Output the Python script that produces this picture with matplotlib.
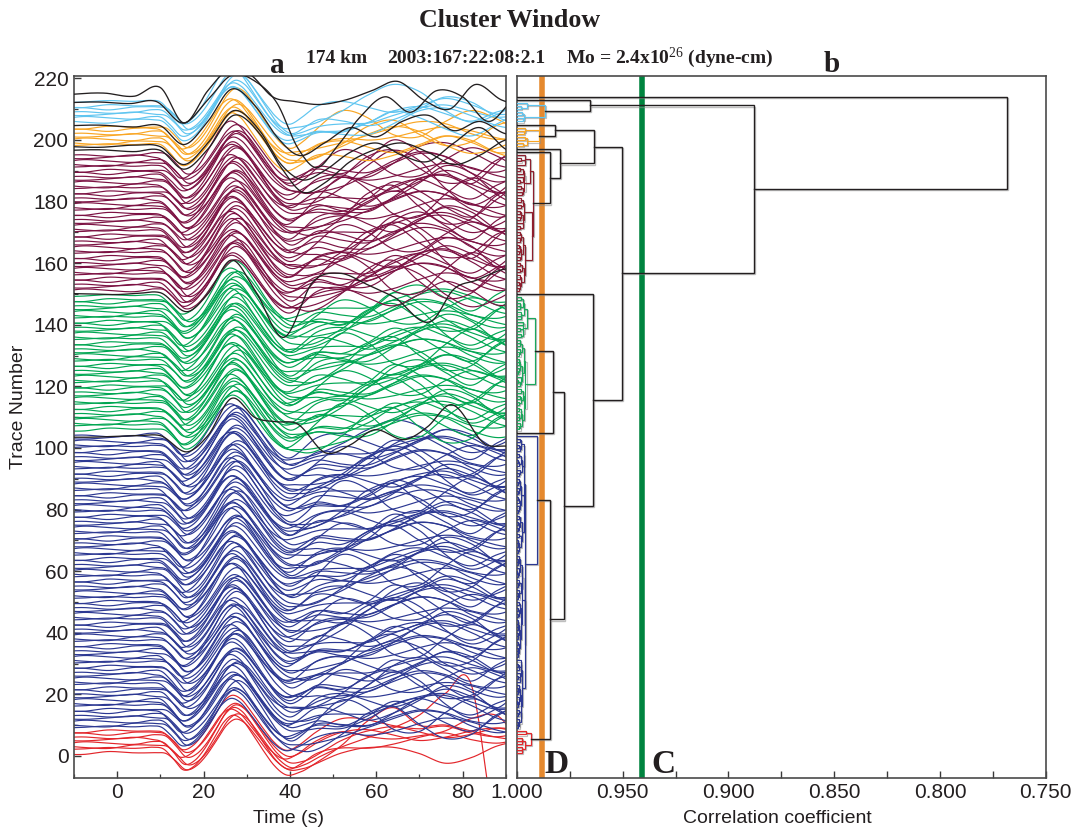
import numpy as np
import matplotlib
matplotlib.use("Agg")
import matplotlib.pyplot as plt
import matplotlib.patheffects as pe
from matplotlib.ticker import MultipleLocator, FixedLocator, FormatStrFormatter

plt.rcParams["font.family"] = ["Liberation Sans", "DejaVu Sans"]
plt.rcParams["mathtext.fontset"] = "custom"
plt.rcParams["mathtext.rm"] = "Liberation Serif"
plt.rcParams["mathtext.it"] = "Liberation Serif:italic"
plt.rcParams["mathtext.bf"] = "Liberation Serif:bold"

# ---------------------------------------------------------------- data
N_TRACES = 214
CLUSTER_NAMES = ["red", "blue", "green", "maroon", "orange", "lightblue"]
CLUSTER_FIRST = [1, 9, 106, 151, 198, 206]
CLUSTER_LAST = [8, 104, 149, 195, 204, 212]
TRACE_COLORS = ["#e3262b", "#2c3892", "#00a652", "#7c1243", "#f9a624", "#5fc5f0"]
TREE_COLORS = ["#e3262b", "#2c3892", "#1aa85c", "#8e1f2e", "#f9a624", "#5fc5f0"]
CODA_GAIN = [0.6, 1.1, 1.15, 1.3, 0.9, 0.9]
UNCLUSTERED = [105, 150, 196, 197, 205, 213, 214]
BLACK = "#231f20"

# stacked waveform: common pulse (trace units) and its knot times (s)
PULSE_T = [-14, -6, 0, 5, 8.5, 11, 13, 15.5, 18, 20, 22.5, 25, 27, 29, 31.5,
           34, 36.5, 39.5, 42.5, 46, 50, 55, 60, 100]
PULSE_A = [0, 0, 0.1, 0.3, 0.5, 0.0, -2.5, -6.0, -4.8, -1.8, 3.5, 9.0, 11.0,
           9.8, 5.5, 0.5, -4.0, -7.0, -6.0, -3.5, -1.5, -0.3, 0, 0]

# pre-event wander (trace units)
PRE_T = [-14, -8, -2, 4, 9, 14, 100]
PRE_ROWS = [
    [0.4, 0.5, -0.3, 0.5, 0.2, 0, 0],
    [-0.3, -0.5, 0.4, -0.2, -0.4, 0, 0],
    [0.0, 0.3, 0.7, 0.2, 0.3, 0, 0],
    [0.5, -0.2, -0.6, 0.4, 0.0, 0, 0],
    [-0.6, 0.6, 0.1, -0.5, 0.2, 0, 0],
    [0.2, -0.1, 0.3, 0.8, -0.2, 0, 0],
    [-0.2, 0.2, -0.4, -0.3, 0.4, 0, 0],
]

# coda deviations after the main pulse (trace units)
CODA_T = [34, 40, 46, 52, 58, 64, 70, 76, 82, 88, 95, 100]
CODA_ROWS = [
    [0, 0, 2.0, 4.5, 2.0, -2.5, -3.0, 1.0, 4.0, 2.0, -2.0, -2.0],
    [0, 0, -1.5, -4.0, -5.0, -1.0, 3.0, 4.5, 0.5, -3.0, -1.0, -1.0],
    [0, 0, 3.0, 1.5, -3.0, -4.5, 0.0, 3.5, 2.5, -2.5, -4.0, -4.0],
    [0, 0, 1.0, 5.0, 6.0, 2.0, -3.0, -4.0, -1.0, 3.0, 4.5, 4.5],
    [0, 0, -2.0, -1.0, 2.5, 5.0, 3.0, -2.0, -5.0, -3.0, 1.0, 1.0],
    [0, 0, 2.5, -2.0, -4.0, 0.5, 4.0, 2.0, -3.0, -4.5, 0.0, 0.0],
    [0, 0, -1.0, 2.0, 4.5, 3.0, 0.0, -3.5, -2.0, 2.5, 5.0, 5.0],
    [0, 0, 3.5, 4.0, 1.5, -1.5, -4.0, -3.0, 1.5, 4.0, 2.0, 2.0],
    [0, 0, -2.5, -5.0, -3.0, 1.0, 2.5, 0.0, -2.5, 1.0, 3.5, 3.5],
    [0, 0, 1.0, 0.0, -2.5, -1.0, 2.5, 5.0, 3.0, -1.0, -3.5, -3.5],
    [0, 0, 0.5, 3.0, 0.5, -3.5, -1.0, 3.0, 5.5, 1.0, -4.0, -4.0],
    [0, 0, -3.0, -2.0, 1.5, 4.0, 1.0, -2.5, 0.0, 4.0, 2.5, 2.5],
]
CODA_SCALE = [1.0, 0.6, 1.2, 0.8, 1.4, 0.5, 1.0, 0.9]
PULSE_SHIFT = [-0.6, 0.4, -0.2, 0.8, 0.0, -0.9, 0.5, 0.2, -0.4]
PULSE_AMP = [1.0, 0.93, 1.07, 0.97, 1.1, 0.9, 1.03, 0.95]

# coda of the eight red traces (trace units)
RED_CODA = [
    [0, 0, -1, 0, 1, 1, -1, -4, -2, 2, 4, 4],
    [0, 0, 0, 3, 10, 14, 8, 8, 6, 4, 3, 3],
    [0, 0, 0, 1, 3, 6, 10, 17, 20, -30, -40, -40],
    [0, 0, 1, 0, -1, 0, 2, 4, 8, 9, -2, -2],
    [0, 0, 2, 3, 1, 0, 1, 2, 0, -1, 1, 1],
    [0, 0, -1, 1, 3, 4, 2, 0, 1, 3, 2, 2],
    [0, 0, 1, 2, 2, 0, -2, -1, 1, 2, 0, 0],
    [0, 0, 2, 4, 3, 1, 0, 1, -1, -2, 0, 0],
]

# unclustered traces (absolute trace-number units)
TR105_T = [-14, -6, 0, 5, 10, 16.5, 21, 26.5, 32, 37, 41.5, 48.5, 54, 59.3, 67, 72, 77, 85.6, 90, 100]
TR105_Y = [103.5, 103.5, 103.8, 104, 104, 98.8, 104, 116.1, 109.8, 108.5, 108, 98.3, 101, 105.8, 102.8, 107, 114, 101, 100.6, 100]
TR150_T = [-14, -6, 0, 5, 10, 16.5, 21, 26.5, 32, 38.5, 45.4, 51.6, 58, 64, 73.2, 77.8, 83.3, 89, 100]
TR150_Y = [150.2, 150, 149.8, 150.2, 150.4, 144.3, 150, 161, 151, 135.9, 154, 156.7, 153, 149.1, 141.6, 151.3, 154.5, 157.8, 158]
TR196_T = [-14, -4, 4, 10, 15.5, 21, 27, 33, 38, 43, 48, 54, 60, 66, 72, 78, 84, 90, 100]
TR196_Y = [196.5, 196.8, 196.2, 196.6, 190.5, 197, 208, 202, 191, 183, 186, 193, 197, 199, 196, 192, 195, 200, 198]
TR197_T = [-14, -4, 4, 10, 15.5, 21, 27, 33, 38, 43, 48, 54, 60, 66, 72, 78, 84, 90, 100]
TR197_Y = [198, 197.6, 198.3, 197.8, 192, 199, 209.5, 203, 192, 187, 190, 196, 199, 195, 193, 199, 204, 197, 195]
TR205_T = [-14, -4, 4, 10, 15.5, 21, 26.5, 32, 37, 42, 48, 54, 60, 66, 72, 78, 84, 90, 100]
TR205_Y = [204.5, 204.8, 204.2, 204.6, 198.5, 206, 216.5, 211, 201, 195, 199, 204, 201, 206, 208, 203, 206, 202, 204]
TR213_T = [-14, -4, 3, 9, 15.5, 21, 26.5, 32, 37, 42, 46, 51, 56, 62, 68, 74, 80, 86, 92, 100]
TR213_Y = [212, 212.3, 211.8, 212.5, 205.5, 213, 221, 219, 212, 197, 191, 198, 207, 214, 209, 216, 214, 206, 213, 212]
TR214_T = [-14, -3, 4, 10, 15.5, 21, 26, 31, 36, 41, 47, 53, 59, 65, 71, 77, 83, 89, 100]
TR214_Y = [214.5, 215.2, 214.2, 217, 205.5, 216, 223, 221, 214, 212.5, 211.5, 213, 216, 219, 213, 210, 218, 213, 211]
BLACK_TRACES = [(TR105_T, TR105_Y), (TR150_T, TR150_Y), (TR196_T, TR196_Y),
                (TR197_T, TR197_Y), (TR205_T, TR205_Y), (TR213_T, TR213_Y),
                (TR214_T, TR214_Y)]

# dendrogram: first split (size of upper block) and merge levels per cluster
CLUSTER_TOP_SPLIT = [2, 1, 14, 14, 3, 3]
CLUSTER_LEVELS = [
    [0.9934, 0.9952, 0.9964, 0.9974, 0.9983, 0.9990, 0.9996],
    [0.9904, 0.9946, 0.9958, 0.9968, 0.9976, 0.9983, 0.9989, 0.9994, 0.9997],
    [0.9915, 0.9950, 0.9962, 0.9972, 0.9980, 0.9987, 0.9993, 0.9997],
    [0.9924, 0.9940, 0.9956, 0.9967, 0.9977, 0.9985, 0.9991, 0.9996],
    [0.9896, 0.9948, 0.9965, 0.9984, 0.9995],
    [0.9868, 0.9959, 0.9975, 0.9989, 0.9996],
]
SPLIT_FRACS = [0.45, 0.3, 0.55, 0.4, 0.6, 0.35, 0.5]
LEVEL_JITTER = [1.0, 0.8, 1.15, 0.9, 0.7, 1.05]

# joins between clusters and single traces
MERGE_LEFT = ["lightblue", "orange", "maroon", "C", "B", "green", "blue", "F", 150, "E", "A", 214]
MERGE_RIGHT = [213, 205, 196, 197, "D", 105, "red", "G", "H", "I", "J", "K"]
MERGE_CORR = [0.9655, 0.9820, 0.9844, 0.9797, 0.9635, 0.9831, 0.9844, 0.9776,
              0.9639, 0.9505, 0.8879, 0.7683]
MERGE_NAME = ["A", "B", "C", "D", "E", "F", "G", "H", "I", "J", "K", "L"]

CUT_D = 0.988
CUT_C = 0.941

# ---------------------------------------------------------------- helpers
def smooth_curve(tk, yk, t):
    tk = np.asarray(tk, float)
    yk = np.asarray(yk, float)
    m = np.gradient(yk, tk)
    idx = np.clip(np.searchsorted(tk, t) - 1, 0, len(tk) - 2)
    t0, t1 = tk[idx], tk[idx + 1]
    h = t1 - t0
    s = (t - t0) / h
    h00 = 2 * s**3 - 3 * s**2 + 1
    h10 = s**3 - 2 * s**2 + s
    h01 = -2 * s**3 + 3 * s**2
    h11 = s**3 - s**2
    return h00 * yk[idx] + h10 * h * m[idx] + h01 * yk[idx + 1] + h11 * h * m[idx + 1]


W, H = 1078, 830
fig = plt.figure(figsize=(W / 100, H / 100), dpi=100)


def fx(px):
    return px / W


def fy(py):
    return 1 - py / H


AX_TOP, AX_BOT = 75.7, 777.7
ax = fig.add_axes([fx(74), fy(AX_BOT), (505.7 - 74) / W, (AX_BOT - AX_TOP) / H])
axd = fig.add_axes([fx(517), fy(AX_BOT), (1045.7 - 517) / W, (AX_BOT - AX_TOP) / H])

YLIM = (-7.05, 220.85)

# ---------------------------------------------------------------- traces
t = np.linspace(-12, 96, 900)
for ci, name in enumerate(CLUSTER_NAMES):
    for i in range(CLUSTER_FIRST[ci], CLUSTER_LAST[ci] + 1):
        shift = PULSE_SHIFT[i % len(PULSE_SHIFT)]
        amp = PULSE_AMP[i % len(PULSE_AMP)]
        pulse = amp * smooth_curve(PULSE_T, PULSE_A, t - shift)
        pre = smooth_curve(PRE_T, PRE_ROWS[i % len(PRE_ROWS)], t)
        if name == "red":
            coda = smooth_curve(CODA_T, RED_CODA[i - 1], t)
        else:
            sign = 1.0 if (i // 2) % 2 == 0 else -1.0
            row = CODA_ROWS[(i * 5) % len(CODA_ROWS)]
            coda = (sign * CODA_GAIN[ci] * CODA_SCALE[i % len(CODA_SCALE)]
                    * smooth_curve(CODA_T, row, t))
        coda[t < CODA_T[0]] = 0.0
        ax.plot(t, i + pre + pulse + coda, color=TRACE_COLORS[ci], lw=0.85,
                zorder=2, solid_capstyle="round")

for bt, by in BLACK_TRACES:
    ax.plot(t, smooth_curve(bt, by, t), color=BLACK, lw=0.95, zorder=3)

ax.set_xlim(-10, 90)
ax.set_ylim(*YLIM)
ax.xaxis.set_major_locator(MultipleLocator(20))
ax.xaxis.set_minor_locator(MultipleLocator(10))
ax.yaxis.set_major_locator(MultipleLocator(20))
ax.yaxis.set_minor_locator(MultipleLocator(10))
ax.tick_params(which="both", direction="in", colors="#3a3a3a", labelcolor=BLACK,
               labelsize=15, pad=4)
ax.tick_params(which="major", length=5, width=1.0)
ax.tick_params(which="minor", length=3, width=0.9)
ax.set_xlabel("Time (s)", fontsize=14, color=BLACK)
ax.xaxis.set_label_coords((288.4 - 74) / (505.7 - 74), (AX_BOT - 818) / (AX_BOT - AX_TOP))
ax.xaxis.label.set_verticalalignment("center")
ax.set_ylabel("Trace Number", fontsize=14, color=BLACK)
ax.yaxis.set_label_coords((19 - 74) / (505.7 - 74), (AX_BOT - 406.7) / (AX_BOT - AX_TOP))
ax.yaxis.label.set_verticalalignment("center")

# ---------------------------------------------------------------- dendrogram
shadow = [pe.SimpleLineShadow(offset=(0.8, -0.8), shadow_color="0.55", alpha=0.55),
          pe.Normal()]


def join(a, b, h, color, lw):
    (ya, ha), (yb, hb) = a, b
    axd.plot([ha, h, h, hb], [ya, ya, yb, yb], color=color, lw=lw,
             path_effects=shadow, solid_joinstyle="miter", zorder=3)
    return ((ya + yb) / 2.0, h)


def subtree(lo, hi, depth, ci, parent_h):
    if lo == hi:
        return (float(lo), 1.0)
    n = hi - lo + 1
    levels = CLUSTER_LEVELS[ci]
    if depth == 0:
        k = CLUSTER_TOP_SPLIT[ci]
        h = levels[0]
    else:
        frac = SPLIT_FRACS[(lo + depth) % len(SPLIT_FRACS)]
        k = int(round(n * frac))
        base = levels[min(depth, len(levels) - 1)]
        h = 1 - (1 - base) * LEVEL_JITTER[(lo + hi) % len(LEVEL_JITTER)]
        h = min(max(h, parent_h + 0.0002), 0.99995)
    k = max(1, min(n - 1, k))
    upper = subtree(hi - k + 1, hi, depth + 1, ci, h)
    lower = subtree(lo, hi - k, depth + 1, ci, h)
    return join(upper, lower, h, TREE_COLORS[ci], 0.85)


nodes = {}
for ci, name in enumerate(CLUSTER_NAMES):
    nodes[name] = subtree(CLUSTER_FIRST[ci], CLUSTER_LAST[ci], 0, ci, 0.0)
for tr in UNCLUSTERED:
    nodes[tr] = (float(tr), 1.0)
for left, right, corr, name in zip(MERGE_LEFT, MERGE_RIGHT, MERGE_CORR, MERGE_NAME):
    nodes[name] = join(nodes[left], nodes[right], corr, BLACK, 1.0)

axd.axvline(CUT_D, color="#e5892e", lw=4.0, zorder=2)
axd.axvline(CUT_C, color="#00843f", lw=4.0, zorder=2)

axd.set_xlim(1.0, 0.75)
axd.set_ylim(*YLIM)
axd.xaxis.set_major_locator(FixedLocator([1.0, 0.95, 0.90, 0.85, 0.80, 0.75]))
axd.xaxis.set_minor_locator(FixedLocator([0.975, 0.925, 0.875, 0.825, 0.775]))
axd.xaxis.set_major_formatter(FormatStrFormatter("%.3f"))
axd.set_yticks([])
axd.tick_params(which="both", direction="in", colors="#3a3a3a", labelcolor=BLACK,
                labelsize=15, pad=4)
axd.tick_params(which="major", length=5, width=1.0)
axd.tick_params(which="minor", length=5, width=1.0)
axd.set_xlabel("Correlation coefficient", fontsize=14, color=BLACK)
axd.xaxis.set_label_coords((777 - 517) / (1045.7 - 517), (AX_BOT - 818) / (AX_BOT - AX_TOP))
axd.xaxis.label.set_verticalalignment("center")

for a in (ax, axd):
    for sp in a.spines.values():
        sp.set_color("#4a4a4a")
        sp.set_linewidth(1.2)

# ---------------------------------------------------------------- titles
serif_b = dict(family="Liberation Serif", weight="bold", color=BLACK)
fig.text(fx(510), fy(27), "Cluster Window", ha="center", va="baseline",
         fontsize=18.7, **serif_b)
fig.text(fx(306.5), fy(63.3), "174 km", ha="left", va="baseline", fontsize=14, **serif_b)
fig.text(fx(387.4), fy(63.3), "2003:167:22:08:2.1", ha="left", va="baseline",
         fontsize=14, **serif_b)
fig.text(fx(565.6), fy(63.3), r"Mo = 2.4x10$^{26}$ (dyne-cm)", ha="left", va="baseline",
         fontsize=14, **serif_b)
fig.text(fx(277), fy(72.7), "a", ha="center", va="baseline", fontsize=21, **serif_b)
fig.text(fx(831.5), fy(71.7), "b", ha="center", va="baseline", fontsize=21, **serif_b)
fig.text(fx(544), fy(773.3), "D", ha="left", va="baseline", fontsize=24, **serif_b)
fig.text(fx(651), fy(773.3), "C", ha="left", va="baseline", fontsize=24, **serif_b)

fig.savefig("out.png", dpi=100)
